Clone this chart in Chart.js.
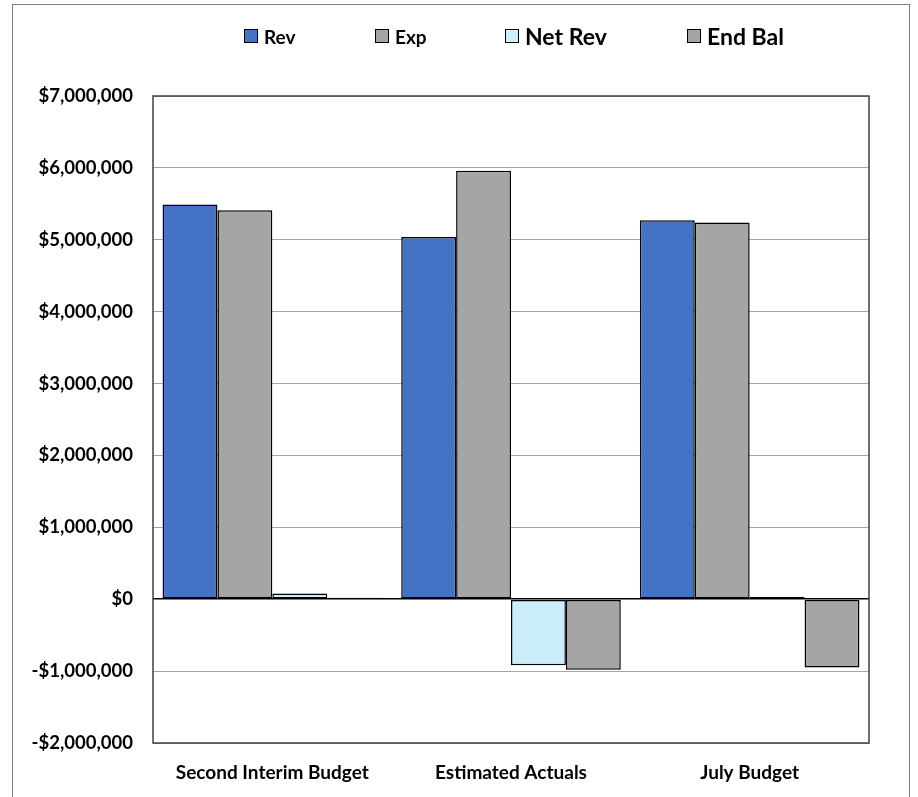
<!DOCTYPE html>
<html>
<head>
<meta charset="utf-8">
<script src="https://cdn.jsdelivr.net/npm/chart.js@4"></script>
<style>
    body { margin: 0; background: #fff; font-family: Lato, sans-serif; }
    #wrap { position: relative; width: 918px; height: 797px; overflow: hidden; }
    #frame { position: absolute; left: 12px; top: 4px; width: 898px; height: 820px; border: 1px solid #7f7f7f; box-sizing: border-box; }
    #chartBox { position: absolute; left: 0; top: 0; width: 918px; height: 797px; }
    .legend-item { position: absolute; top: 26px; height: 20px; display: flex; align-items: center; font-weight: bold; color: #000; white-space: nowrap; }
    .legend-item .swatch { width: 14px; height: 14px; border: 1px solid #000; margin-right: 6px; box-sizing: border-box; }
</style>
</head>
<body>
<div id="wrap">
    <div id="frame"></div>
    <div id="chartBox"><canvas id="budgetChart"></canvas></div>
    <div id="legend"></div>
</div>
<script>
// chart data
const categories = ['Second Interim Budget', 'Estimated Actuals', 'July Budget'];
const seriesNames = ['Rev', 'Exp', 'Net Rev', 'End Bal'];
const revValues = [5490000, 5040000, 5270000];
const expValues = [5410000, 5960000, 5240000];
const netRevValues = [80000, -920000, 30000];
const endBalValues = [20000, -980000, -950000];

const seriesColors = ['#4472C4', '#A5A5A5', '#CCEEFB', '#A5A5A5'];
const seriesValues = [revValues, expValues, netRevValues, endBalValues];

// the legend in the original uses two text sizes
const legendLayout = [
    { left: 244, size: 19 },
    { left: 375, size: 19 },
    { left: 505, size: 23 },
    { left: 687, size: 23 }
];

const formatMoney = v => (v < 0 ? '-$' : '$') + Math.abs(v).toLocaleString('en-US');

function buildLegend() {
    const legend = document.getElementById('legend');
    seriesNames.forEach((name, i) => {
        const item = document.createElement('div');
        item.className = 'legend-item';
        item.style.left = legendLayout[i].left + 'px';
        item.style.fontSize = legendLayout[i].size + 'px';
        const swatch = document.createElement('span');
        swatch.className = 'swatch';
        swatch.style.background = seriesColors[i];
        const label = document.createElement('span');
        label.textContent = name;
        item.appendChild(swatch);
        item.appendChild(label);
        legend.appendChild(item);
    });
}

// draws the dark box around the plot area
const plotBorder = {
    id: 'plotBorder',
    afterDraw(chart) {
        const { ctx, chartArea: a } = chart;
        ctx.save();
        ctx.strokeStyle = '#404040';
        ctx.lineWidth = 1.5;
        ctx.strokeRect(a.left, a.top, a.right - a.left, a.bottom - a.top);
        ctx.restore();
    }
};

buildLegend();

new Chart(document.getElementById('budgetChart'), {
    type: 'bar',
    data: {
        labels: categories,
        datasets: seriesNames.map((name, i) => ({
            label: name,
            data: seriesValues[i],
            backgroundColor: seriesColors[i],
            borderColor: '#000',
            borderWidth: 1.5,
            borderSkipped: false,
            categoryPercentage: 0.92,
            barPercentage: 1
        }))
    },
    options: {
        responsive: true,
        maintainAspectRatio: false,
        animation: false,
        layout: { padding: { left: 0, top: 96, right: 49, bottom: 0 } },
        plugins: {
            legend: { display: false },
            tooltip: { enabled: false }
        },
        scales: {
            x: {
                afterFit: scale => { scale.height = 54; },
                grid: { display: false, drawTicks: false },
                border: { display: false },
                ticks: {
                    color: '#000',
                    padding: 18,
                    maxRotation: 0,
                    font: { family: 'Lato', size: 19, weight: 'bold' }
                }
            },
            y: {
                min: -2000000,
                max: 7000000,
                afterFit: scale => { scale.width = 153; },
                grid: {
                    drawTicks: false,
                    color: ctx => ctx.tick && ctx.tick.value === 0 ? '#000' : '#A6A6A6',
                    lineWidth: ctx => ctx.tick && ctx.tick.value === 0 ? 1.5 : 1
                },
                border: { display: false },
                ticks: {
                    stepSize: 1000000,
                    color: '#000',
                    padding: 20,
                    font: { family: 'Lato', size: 18.5, weight: 'bold' },
                    callback: v => formatMoney(v)
                }
            }
        }
    },
    plugins: [plotBorder]
});
</script>
</body>
</html>
